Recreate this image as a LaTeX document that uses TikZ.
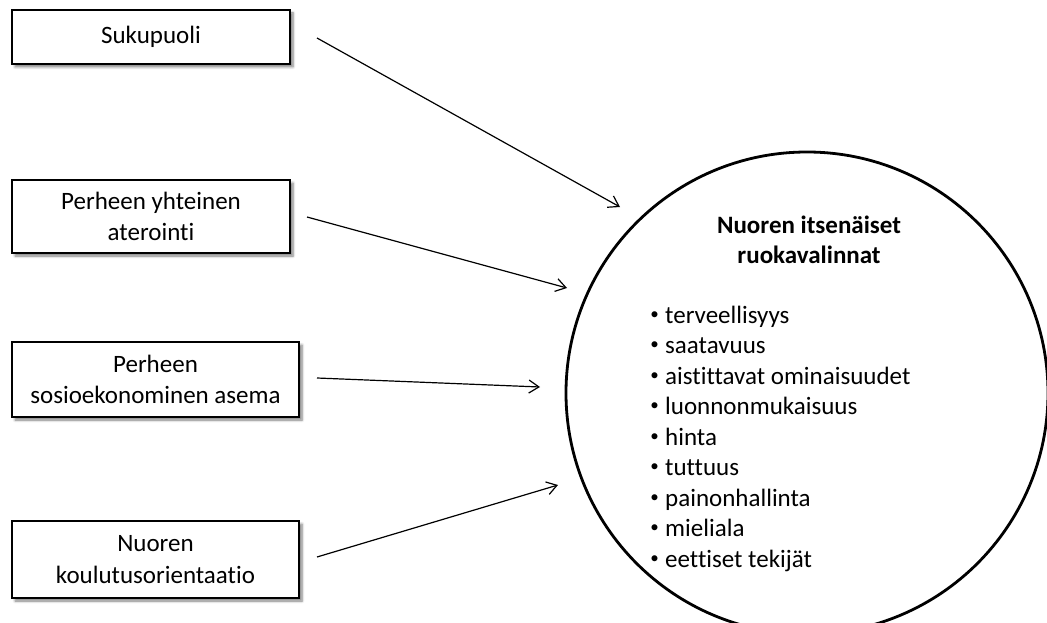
\documentclass[tikz,border=0pt]{standalone}
\usepackage{fontspec}
\setmainfont{Carlito}[Ligatures={NoCommon,NoRare,NoContextual}]
\usetikzlibrary{arrows.meta,shadows.blur}

\tikzset{
  factor/.style={draw=black, line width=2pt, fill=white, rectangle, inner sep=0pt,
    align=center, font=\fontsize{25}{31.5}\selectfont,
    blur shadow={shadow xshift=3pt, shadow yshift=-3pt, shadow blur steps=6,
      shadow blur radius=2.5pt, shadow opacity=50}},
  outcome/.style={draw=black, line width=2.8pt, circle, inner sep=0pt, fill=white},
  influence/.style={line width=1.2pt, -{Straight Barb[length=10pt,width=13pt,line width=1.2pt]}},
  heading/.style={anchor=base, font=\fontsize{25}{30}\selectfont\bfseries},
  item/.style={anchor=base west, font=\fontsize{25}{30}\selectfont, inner sep=0pt},
  bullet/.style={anchor=base, inner sep=0pt, font=\fontsize{17}{17}\selectfont},
}

\begin{document}
\begin{tikzpicture}[x=1pt, y=-1pt]
  \useasboundingbox (0,0) rectangle (1047,623);
  \clip (0,0) rectangle (1047,623);

  % factor boxes on the left
  \node[factor, minimum width=278pt, minimum height=54pt] (sex) at (151,37) {Sukupuoli};
  \node[factor, minimum width=278pt, minimum height=73pt] (meals) at (151,216.5)
    {Perheen yhteinen\\aterointi};
  \node[factor, minimum width=287pt, minimum height=75pt] (ses) at (155.5,379.5)
    {Perheen\\sosioekonominen asema};
  \node[factor, minimum width=287pt, minimum height=77pt] (edu) at (155.5,559.5)
    {Nuoren\\koulutusorientaatio};

  % the food-choice circle
  \node[outcome, minimum size=482pt] (choice) at (807,393) {};
  \node[heading] (head1) at (809,233) {Nuoren itsenäiset};
  \node[heading] (head2) at (809,263) {ruokavalinnat};

  \foreach \txt [count=\i] in {terveellisyys, saatavuus, aistittavat ominaisuudet,
      luonnonmukaisuus, hinta, tuttuus, painonhallinta, mieliala, eettiset tekijät} {
    \node[item] (li\i) at (665, {323+(\i-1)*30.5}) {\txt};
    \node[bullet] (bul\i) at (654.5, {323+(\i-1)*30.5}) {\raisebox{3.6pt}{•}};
  }

  % arrow tails and tips
  \coordinate (s1) at (317,38);   \coordinate (t1) at (620,207);
  \coordinate (s2) at (307,217);  \coordinate (t2) at (567,288);
  \coordinate (s3) at (317,378);  \coordinate (t3) at (540,387);
  \coordinate (s4) at (317,557);  \coordinate (t4) at (558,485);

  \draw[influence] (s1) -- (t1);
  \draw[influence] (s2) -- (t2);
  \draw[influence] (s3) -- (t3);
  \draw[influence] (s4) -- (t4);
\end{tikzpicture}
\end{document}
